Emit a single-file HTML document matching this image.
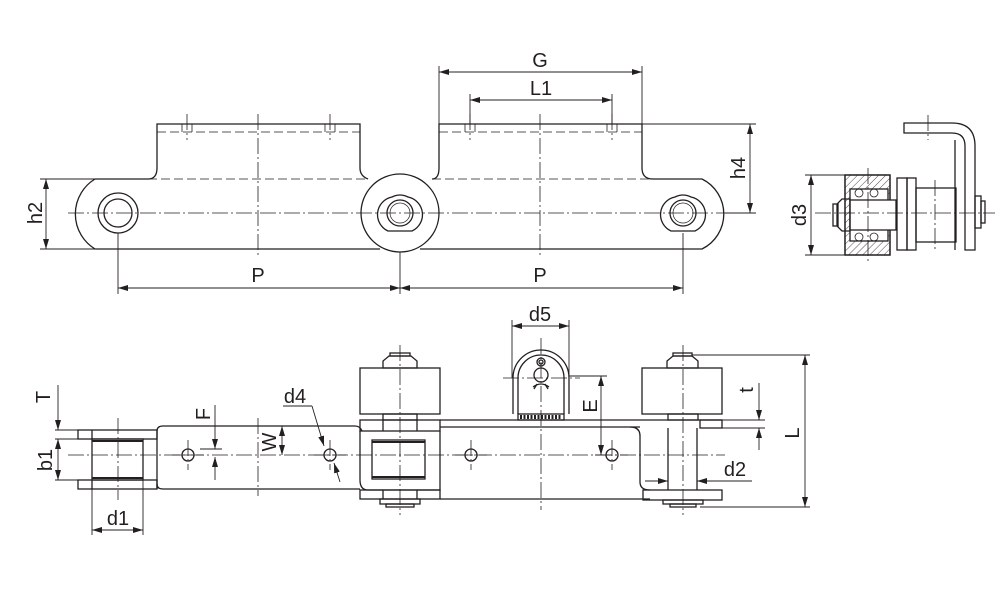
<!DOCTYPE html>
<html><head><meta charset="utf-8"><style>
html,body{margin:0;padding:0;background:#fff}
svg{display:block}
text{font-family:"Liberation Sans",Arial,sans-serif;font-size:20px;fill:#231f20}
</style></head><body>
<svg width="1000" height="600" viewBox="0 0 1000 600" xmlns="http://www.w3.org/2000/svg">
<defs>
<marker id="a" viewBox="0 0 10 6" refX="10" refY="3" markerWidth="10" markerHeight="6" orient="auto-start-reverse" markerUnits="userSpaceOnUse"><path d="M0,0L10,3L0,6z" fill="#231f20"/></marker>
<pattern id="h" width="5" height="5" patternUnits="userSpaceOnUse" patternTransform="rotate(45)"><line x1="0" y1="0" x2="0" y2="5" stroke="#231f20" stroke-width="0.8"/></pattern>
</defs>
<g fill="none" stroke="#231f20" stroke-width="1.3">
<!-- ===== TOP VIEW ===== -->
<path d="M95,179 H148 Q157,179 157,168 V124 H360 V168 Q360,176 368,179"/>
<path d="M95,179 A41,41 0 0 0 95,249 H380"/>
<circle cx="400" cy="213" r="39"/>
<path d="M432,179 Q439,179 439,168 V124 H642 V168 Q642,179 653,179 H702 A39,39 0 0 1 702,249 H420"/>
<g stroke-width="0.8" stroke-dasharray="9,4">
<line x1="157" y1="132" x2="360" y2="132"/>
<line x1="439" y1="132" x2="642" y2="132"/>
<line x1="148" y1="179" x2="368" y2="179"/>
<line x1="432" y1="179" x2="653" y2="179"/>
<line x1="182" y1="124" x2="182" y2="132"/><line x1="192" y1="124" x2="192" y2="132"/>
<line x1="325" y1="124" x2="325" y2="132"/><line x1="335" y1="124" x2="335" y2="132"/>
<line x1="465" y1="124" x2="465" y2="132"/><line x1="475" y1="124" x2="475" y2="132"/>
<line x1="607" y1="124" x2="607" y2="132"/><line x1="617" y1="124" x2="617" y2="132"/>
</g>
<circle cx="118" cy="213" r="20"/><circle cx="118" cy="213" r="14"/>
<path d="M392,197 A18,18 0 0 1 408,197 A18,18 0 0 1 412,231 H388 A18,18 0 0 1 392,197z"/>
<circle cx="400" cy="213" r="13"/><circle cx="400" cy="213" r="10" stroke-width="0.7"/>
<path d="M675,197 A18,18 0 0 1 691,197 A18,18 0 0 1 695,231 H671 A18,18 0 0 1 675,197z"/>
<circle cx="683" cy="213" r="13"/><circle cx="683" cy="213" r="10" stroke-width="0.7"/>
<g stroke-width="0.8" stroke-dasharray="16,3,2,3">
<line x1="68" y1="213" x2="735" y2="213"/>
<line x1="258" y1="114" x2="258" y2="258"/>
<line x1="540" y1="114" x2="540" y2="258"/>
<line x1="187" y1="114" x2="187" y2="140"/><line x1="330" y1="114" x2="330" y2="140"/>
<line x1="470" y1="114" x2="470" y2="140"/><line x1="612" y1="114" x2="612" y2="140"/>
</g>
<g stroke-width="0.9">
<line x1="439" y1="66" x2="439" y2="124"/><line x1="642" y1="66" x2="642" y2="124"/>
<line x1="439" y1="72" x2="642" y2="72" marker-start="url(#a)" marker-end="url(#a)"/>
<line x1="470" y1="94" x2="470" y2="124"/><line x1="612" y1="94" x2="612" y2="124"/>
<line x1="470" y1="100" x2="612" y2="100" marker-start="url(#a)" marker-end="url(#a)"/>
<line x1="642" y1="124" x2="756" y2="124"/><line x1="725" y1="213" x2="756" y2="213"/>
<line x1="750" y1="124" x2="750" y2="213" marker-start="url(#a)" marker-end="url(#a)"/>
<line x1="40" y1="179" x2="95" y2="179"/><line x1="40" y1="249" x2="95" y2="249"/>
<line x1="46" y1="179" x2="46" y2="249" marker-start="url(#a)" marker-end="url(#a)"/>
<line x1="118" y1="233" x2="118" y2="294"/><line x1="400" y1="252" x2="400" y2="294"/><line x1="683" y1="233" x2="683" y2="294"/>
<line x1="118" y1="288" x2="400" y2="288" marker-start="url(#a)" marker-end="url(#a)"/>
<line x1="400" y1="288" x2="683" y2="288" marker-start="url(#a)" marker-end="url(#a)"/>
</g>

<!-- ===== SIDE VIEW ===== -->
<rect x="845" y="175" width="45" height="80" fill="url(#h)"/>
<rect x="850" y="189" width="38" height="52" fill="#fff"/>
<rect x="845" y="175" width="45" height="80"/>
<rect x="850" y="189" width="38" height="52" stroke-width="0.8"/>
<g stroke-width="0.8">
<circle cx="859" cy="193" r="4"/><circle cx="874" cy="193" r="4"/>
<circle cx="859" cy="237" r="4"/><circle cx="874" cy="237" r="4"/>
</g>
<rect x="850" y="200" width="46" height="30" fill="#fff"/>
<path d="M842,199 H850 V231 H842 L837,226 V204z"/>
<rect x="833" y="204" width="5" height="22"/>
<rect x="897" y="178" width="10" height="72"/><rect x="907" y="178" width="9" height="72"/>
<rect x="916" y="188" width="40" height="54"/>
<path d="M904,123 H952 Q975,123 975,146 V250 H965 V146 Q965,133 952,133 H904z"/>
<line x1="955" y1="140" x2="955" y2="250"/>
<rect x="975" y="196" width="6" height="32"/><rect x="981" y="201" width="4" height="22"/>
<g stroke-width="0.8" stroke-dasharray="16,3,2,3">
<line x1="815" y1="213" x2="995" y2="213"/>
<line x1="868" y1="168" x2="868" y2="262"/><line x1="935" y1="180" x2="935" y2="250"/>
<line x1="928" y1="115" x2="928" y2="140"/>
</g>
<g stroke-width="0.9">
<line x1="805" y1="175" x2="845" y2="175"/><line x1="805" y1="255" x2="845" y2="255"/>
<line x1="811" y1="175" x2="811" y2="255" marker-start="url(#a)" marker-end="url(#a)"/>
</g>

<!-- ===== BOTTOM VIEW ===== -->
<rect x="78" y="430" width="79" height="9"/><rect x="78" y="480" width="79" height="9"/>
<line x1="92" y1="430" x2="92" y2="439"/><line x1="92" y1="480" x2="92" y2="489"/>
<rect x="92" y="439" width="51" height="41"/>
<line x1="92" y1="441" x2="143" y2="441" stroke-width="2"/><line x1="92" y1="478" x2="143" y2="478" stroke-width="2"/>
<path d="M157,489 V431 Q157,426 163,426 H355 Q360,426 362,431"/>
<path d="M157,484 Q157,489 163,489 H360"/>
<rect x="360" y="368" width="80" height="46"/>
<path d="M383,368 V361 L389,356 H411 L417,361 V368z"/><rect x="390" y="353" width="20" height="3"/>
<rect x="383" y="414" width="34" height="6"/>
<rect x="360" y="420" width="80" height="11"/>
<line x1="383" y1="420" x2="383" y2="431"/><line x1="417" y1="420" x2="417" y2="431"/>
<path d="M360,431 V480 Q360,490 368,490 H440 V431"/>
<rect x="372" y="440" width="53" height="39"/>
<line x1="372" y1="442" x2="425" y2="442" stroke-width="2"/><line x1="372" y1="477" x2="425" y2="477" stroke-width="2"/>
<rect x="360" y="490" width="80" height="9"/>
<line x1="383" y1="490" x2="383" y2="499"/><line x1="417" y1="490" x2="417" y2="499"/>
<rect x="380" y="499" width="40" height="5"/><rect x="386" y="504" width="28" height="3"/>
<path d="M440,420 H722"/><path d="M440,427 H640"/>
<path d="M440,499 H650"/>
<path d="M630,427 Q640,427 640,436 V482 Q640,490 650,490"/>
<path d="M513,414 V378 A28,28 0 0 1 569,378 V414"/>
<path d="M518,414 V378 A23,23 0 0 1 564,378 V414"/>
<rect x="518" y="414" width="46" height="6"/>
<g stroke-width="0.6"><path d="M520,417 h42" stroke-dasharray="2,1.5" stroke-width="4"/></g>
<circle cx="541" cy="375" r="7" fill="#fff"/><circle cx="541" cy="362" r="4"/><circle cx="541" cy="362" r="2"/>
<path d="M533,387 Q541,381 549,387 M537,384 L534,389 M545,384 L548,389"/>
<rect x="642" y="368" width="80" height="46"/>
<path d="M667,368 V361 L673,356 H692 L698,361 V368z"/><rect x="673" y="353" width="19" height="3"/>
<rect x="668" y="414" width="30" height="6"/>
<rect x="700" y="420" width="22" height="8"/>
<line x1="668" y1="428" x2="668" y2="490"/><line x1="697" y1="428" x2="697" y2="490"/>
<rect x="643" y="490" width="79" height="10"/>
<rect x="663" y="500" width="40" height="4"/><rect x="670" y="504" width="26" height="3"/>
<circle cx="188" cy="455" r="6"/><circle cx="330" cy="455" r="6"/>
<circle cx="471" cy="455" r="6"/><circle cx="612" cy="455" r="6"/>
<g stroke-width="0.8" stroke-dasharray="16,3,2,3">
<line x1="68" y1="455" x2="725" y2="455"/>
<line x1="118" y1="418" x2="118" y2="500"/>
<line x1="400" y1="345" x2="400" y2="515"/>
<line x1="541" y1="338" x2="541" y2="510"/>
<line x1="683" y1="345" x2="683" y2="515"/>
<line x1="258" y1="418" x2="258" y2="496"/>
<line x1="172" y1="455" x2="204" y2="455"/><line x1="188" y1="440" x2="188" y2="470"/>
<line x1="314" y1="455" x2="346" y2="455"/><line x1="330" y1="440" x2="330" y2="470"/>
<line x1="455" y1="455" x2="487" y2="455"/><line x1="471" y1="440" x2="471" y2="470"/>
<line x1="596" y1="455" x2="628" y2="455"/><line x1="612" y1="440" x2="612" y2="470"/>
<line x1="503" y1="378" x2="580" y2="378"/>
</g>
<g stroke-width="0.9">
<line x1="55" y1="430" x2="78" y2="430"/><line x1="55" y1="439" x2="92" y2="439"/><line x1="55" y1="480" x2="92" y2="480"/>
<line x1="58" y1="385" x2="58" y2="430" marker-end="url(#a)"/>
<line x1="58" y1="439" x2="58" y2="480" marker-start="url(#a)" marker-end="url(#a)"/>
<line x1="92" y1="480" x2="92" y2="535"/><line x1="143" y1="480" x2="143" y2="535"/>
<line x1="92" y1="530" x2="143" y2="530" marker-start="url(#a)" marker-end="url(#a)"/>
<line x1="215" y1="405" x2="215" y2="449" marker-end="url(#a)"/>
<line x1="215" y1="480" x2="215" y2="457" marker-end="url(#a)"/>
<line x1="200" y1="449" x2="222" y2="449"/>
<line x1="282" y1="426" x2="282" y2="455" marker-start="url(#a)" marker-end="url(#a)"/>
<line x1="283" y1="406" x2="312" y2="406"/>
<path d="M312,406 L324,446" marker-end="url(#a)"/>
<path d="M340,482 L334,463" marker-end="url(#a)"/>
<line x1="569" y1="376" x2="607" y2="376"/><line x1="595" y1="455" x2="607" y2="455"/>
<line x1="601" y1="376" x2="601" y2="455" marker-start="url(#a)" marker-end="url(#a)"/>
<line x1="512" y1="320" x2="512" y2="378"/><line x1="569" y1="320" x2="569" y2="378"/>
<line x1="512" y1="326" x2="569" y2="326" marker-start="url(#a)" marker-end="url(#a)"/>
<line x1="722" y1="420" x2="765" y2="420"/><line x1="722" y1="428" x2="765" y2="428"/>
<line x1="759" y1="383" x2="759" y2="420" marker-end="url(#a)"/>
<line x1="759" y1="450" x2="759" y2="428" marker-end="url(#a)"/>
<line x1="692" y1="355" x2="810" y2="355"/><line x1="700" y1="507" x2="810" y2="507"/>
<line x1="805" y1="355" x2="805" y2="507" marker-start="url(#a)" marker-end="url(#a)"/>
<line x1="645" y1="481" x2="668" y2="481" marker-end="url(#a)"/>
<line x1="752" y1="481" x2="697" y2="481" marker-end="url(#a)"/>
</g>
</g>
<text x="540" y="67" text-anchor="middle">G</text>
<text x="541" y="95" text-anchor="middle">L1</text>
<text x="258" y="282" text-anchor="middle">P</text>
<text x="540" y="282" text-anchor="middle">P</text>
<text transform="translate(745,168) rotate(-90)" text-anchor="middle">h4</text>
<text transform="translate(42,213) rotate(-90)" text-anchor="middle">h2</text>
<text transform="translate(806,215) rotate(-90)" text-anchor="middle">d3</text>
<text x="540" y="321" text-anchor="middle">d5</text>
<text x="295" y="403" text-anchor="middle">d4</text>
<text x="118" y="525" text-anchor="middle">d1</text>
<text x="735" y="476" text-anchor="middle">d2</text>
<text transform="translate(50,397) rotate(-90)" text-anchor="middle">T</text>
<text transform="translate(52,460) rotate(-90)" text-anchor="middle">b1</text>
<text transform="translate(210,414) rotate(-90)" text-anchor="middle">F</text>
<text transform="translate(276,442) rotate(-90)" text-anchor="middle">W</text>
<text transform="translate(597,406) rotate(-90)" text-anchor="middle">E</text>
<text transform="translate(753,390) rotate(-90)" text-anchor="middle">t</text>
<text transform="translate(799,433) rotate(-90)" text-anchor="middle">L</text>
</svg>
</body></html>
